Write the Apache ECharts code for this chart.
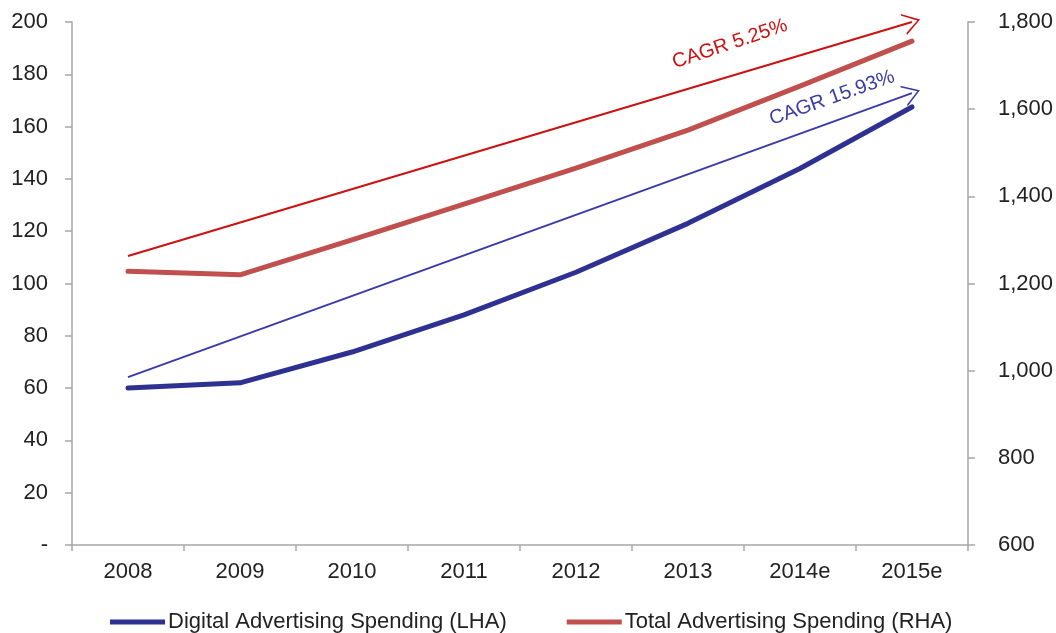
<!DOCTYPE html>
<html>
<head>
<meta charset="utf-8">
<script src="https://cdn.jsdelivr.net/npm/echarts@6/dist/echarts.min.js"></script>
<style>
html,body{margin:0;padding:0;background:#fff;}
#chart{width:1056px;height:633px;}
</style>
</head>
<body>
<div id="chart"></div>
<script>
const categories = ['2008','2009','2010','2011','2012','2013','2014e','2015e'];
const digitalSpending = [60, 62, 73.8, 88, 104.3, 123, 144, 167.5];
const totalSpending = [1228, 1220, 1300, 1382, 1465, 1552, 1653, 1756];
const leftTicks = [0, 200, 20];
const rightTicks = [600, 1800, 200];
const cagrTotal = { label: 'CAGR 5.25%', from: ['2008', 110.5], to: ['2015e', 200] };
const cagrDigital = { label: 'CAGR 15.93%', from: ['2008', 64.2], to: ['2015e', 172.8] };

const FONT = 'Liberation Sans, Arial, Helvetica, sans-serif';
const chevron = 'path://M10,0 L20,18 L18.2,18 L10,3 L1.8,18 L0,18 Z';
const axisLineGrey = '#a6a6a6';

const chart = echarts.init(document.getElementById('chart'));
chart.setOption({
  animation: false,
  backgroundColor: '#fff',
  textStyle: { fontFamily: FONT },
  grid: { left: 72, right: 86, top: 22, bottom: 88, containLabel: false },
  legend: {
    data: ['Digital Advertising Spending (LHA)', 'Total Advertising Spending (RHA)'],
    left: 110, top: 611, padding: 0,
    icon: 'rect', itemWidth: 55, itemHeight: 5, itemGap: 60,
    textStyle: { fontSize: 22, color: '#222', fontFamily: FONT, padding: [0, 0, 0, -2] }
  },
  xAxis: {
    type: 'category',
    data: categories,
    boundaryGap: true,
    axisLine: { lineStyle: { color: axisLineGrey, width: 1.5 } },
    axisTick: { show: true, length: 6, lineStyle: { color: axisLineGrey, width: 1.5 } },
    axisLabel: { fontSize: 22, color: '#222', margin: 16, fontFamily: FONT }
  },
  yAxis: [
    {
      type: 'value', min: leftTicks[0], max: leftTicks[1], interval: leftTicks[2], position: 'left',
      axisLine: { show: true, lineStyle: { color: axisLineGrey, width: 1.5 } },
      axisTick: { show: true, length: 7, lineStyle: { color: axisLineGrey, width: 1.5 } },
      splitLine: { show: false },
      axisLabel: { fontSize: 22, color: '#222', margin: 24, fontFamily: FONT,
        formatter: v => v === 0 ? '-' : String(v) }
    },
    {
      type: 'value', min: rightTicks[0], max: rightTicks[1], interval: rightTicks[2], position: 'right',
      axisLine: { show: true, lineStyle: { color: axisLineGrey, width: 1.5 } },
      axisTick: { show: true, length: 7, lineStyle: { color: axisLineGrey, width: 1.5 } },
      splitLine: { show: false },
      axisLabel: { fontSize: 22, color: '#222', margin: 30, fontFamily: FONT,
        formatter: v => v.toLocaleString('en-US') }
    }
  ],
  series: [
    {
      name: 'Digital Advertising Spending (LHA)',
      type: 'line', yAxisIndex: 0, data: digitalSpending,
      symbol: 'none', clip: false,
      itemStyle: { color: '#2e3192' },
      lineStyle: { color: '#2e3192', width: 5, cap: 'round', join: 'round' },
      markLine: {
        silent: true, animation: false,
        symbol: ['none', chevron], symbolSize: [22, 17],
        label: { show: false },
        emphasis: { disabled: true },
        data: [
          [ { coord: cagrTotal.from, lineStyle: { color: '#cc1111', width: 2, type: 'solid' } },
            { coord: cagrTotal.to } ],
          [ { coord: cagrDigital.from, lineStyle: { color: '#3a3aa8', width: 2, type: 'solid' } },
            { coord: cagrDigital.to } ]
        ]
      }
    },
    {
      name: 'Total Advertising Spending (RHA)',
      type: 'line', yAxisIndex: 1, data: totalSpending,
      symbol: 'none',
      itemStyle: { color: '#c0504d' },
      lineStyle: { color: '#c0504d', width: 5, cap: 'round', join: 'round' }
    }
  ],
  graphic: [
    { type: 'text', x: 730, y: 44, rotation: 18.5 * Math.PI / 180, silent: true,
      style: { text: cagrTotal.label, fill: '#cc1111', font: '20px ' + FONT,
        textAlign: 'center', textVerticalAlign: 'middle' } },
    { type: 'text', x: 832, y: 98, rotation: 19.5 * Math.PI / 180, silent: true,
      style: { text: cagrDigital.label, fill: '#3a3aa8', font: '20px ' + FONT,
        textAlign: 'center', textVerticalAlign: 'middle' } }
  ]
});
</script>
</body>
</html>
